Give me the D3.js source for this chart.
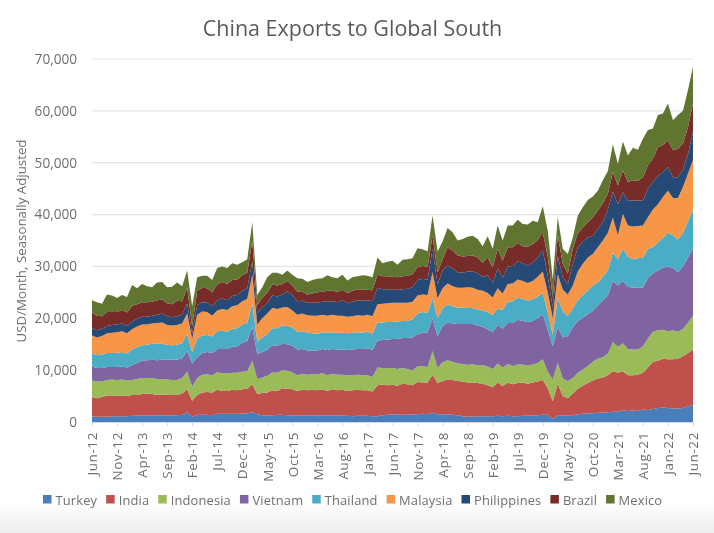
<!DOCTYPE html>
<html>
<head>
<meta charset="utf-8">
<script src="https://cdn.jsdelivr.net/npm/d3@7"></script>
<style>
  html, body { margin: 0; padding: 0; background: #fff; }
  text { font-family: "Open Sans", sans-serif; fill: #6e6e6e; }
</style>
</head>
<body>
<div id="chart"></div>
<script>
// values, in thousands of USD/month, Jun-12 to Jun-22
var turkey = [1.1,1.0,1.0,1.0,1.1,1.1,1.1,1.1,1.2,1.2,
  1.3,1.2,1.2,1.3,1.3,1.2,1.3,1.3,1.4,1.9,
  1.0,1.4,1.4,1.4,1.3,1.6,1.6,1.6,1.6,1.6,
  1.6,1.7,1.9,1.5,1.3,1.2,1.3,1.4,1.4,1.3,
  1.3,1.3,1.2,1.3,1.3,1.3,1.3,1.3,1.3,1.3,
  1.2,1.2,1.1,1.2,1.2,1.2,1.1,1.1,1.3,1.4,
  1.5,1.5,1.4,1.4,1.5,1.5,1.6,1.5,1.8,1.5,
  1.5,1.5,1.4,1.3,1.1,1.0,1.1,1.1,1.1,1.1,
  1.1,1.2,1.1,1.2,1.1,1.1,1.2,1.2,1.3,1.3,
  1.4,1.4,0.6,1.3,1.3,1.3,1.3,1.5,1.6,1.7,
  1.7,1.8,1.8,1.9,2.0,2.0,2.2,2.1,2.2,2.1,
  2.4,2.3,2.5,2.7,2.8,2.7,2.6,2.6,2.7,3.0,3.3];
var india = [3.7,3.6,3.8,4.1,4.0,3.9,4.0,3.9,4.0,4.0,
  4.1,4.3,4.2,3.9,4.0,4.0,3.9,3.9,4.1,4.4,
  3.1,3.8,4.3,4.4,4.4,4.6,4.4,4.4,4.6,4.5,
  4.7,4.7,5.4,3.9,4.3,4.5,4.8,4.6,5.1,5.1,
  5.0,4.7,5.0,4.8,4.9,4.8,5.0,4.7,5.0,4.8,
  5.0,4.8,5.0,5.0,4.9,4.9,4.8,6.0,5.9,5.7,
  5.7,5.5,6.0,5.9,5.6,6.2,6.0,6.1,7.3,6.0,
  6.4,6.7,6.7,6.6,6.7,6.6,6.5,6.4,6.3,6.0,
  5.6,6.4,5.8,6.4,6.2,6.4,6.4,6.2,6.3,6.5,
  6.7,5.1,3.4,6.1,3.7,3.3,4.2,4.9,5.4,5.8,
  6.3,6.6,6.8,7.1,7.8,7.5,7.6,6.9,6.8,7.0,
  7.1,8.2,9.1,9.1,9.4,9.4,9.5,9.6,10.0,10.3,10.7];
var indonesia = [3.2,3.2,3.0,3.0,3.1,3.1,3.1,3.0,2.9,3.1,
  3.1,3.0,3.1,3.1,3.0,3.0,2.9,2.9,3.0,3.5,
  2.7,3.3,3.4,3.4,3.3,3.4,3.4,3.4,3.3,3.4,
  3.4,3.4,4.5,2.9,3.0,3.2,3.5,3.5,3.5,3.5,
  3.3,3.0,3.1,3.0,3.0,3.1,3.1,3.0,3.0,3.0,
  2.9,3.0,2.9,2.9,2.9,2.9,2.8,3.4,3.2,3.3,
  3.2,3.2,3.0,2.9,2.9,3.0,3.2,3.0,4.6,2.9,
  3.6,3.7,3.5,3.4,3.4,3.4,3.6,3.4,3.6,3.6,
  3.5,3.7,3.6,3.6,3.5,3.6,3.5,3.5,3.5,3.6,
  4.0,3.2,4.2,4.0,3.4,3.3,3.0,3.1,3.1,3.3,
  3.6,3.8,3.9,4.2,5.6,5.0,5.4,5.1,5.0,4.9,
  5.1,5.6,5.8,5.9,5.6,5.4,5.6,5.2,5.3,5.9,6.5];
var vietnam = [2.7,2.6,2.6,2.5,2.4,2.5,2.5,2.5,2.9,3.1,
  3.3,3.4,3.5,3.6,3.7,3.8,3.9,3.9,3.8,3.9,
  4.5,4.0,4.2,4.3,4.3,4.5,4.7,4.7,5.0,5.1,
  5.6,5.8,6.6,4.8,4.9,5.0,5.2,5.2,5.1,5.1,
  5.1,5.0,4.8,4.7,4.6,4.6,4.7,4.9,4.8,4.9,
  4.9,4.9,5.0,5.0,5.1,5.2,5.2,5.2,5.4,5.5,
  5.6,5.8,5.8,6.0,6.3,6.2,6.4,6.7,6.2,6.1,
  7.0,7.3,7.4,7.6,7.7,7.9,7.7,7.7,7.3,7.2,
  7.1,7.4,7.5,7.9,8.3,8.6,8.4,8.4,8.4,8.6,
  8.7,8.1,6.4,6.9,7.9,8.7,9.8,10.0,10.0,10.0,
  9.8,10.2,11.0,11.2,11.8,11.8,12.0,12.0,11.9,12.0,
  11.3,11.7,11.3,11.5,12.0,12.5,12.0,11.5,12.0,12.5,13.0];
var thailand = [2.5,2.5,2.6,2.7,2.7,2.7,2.8,2.7,3.0,3.0,
  3.0,3.0,3.1,3.2,3.1,2.9,2.8,2.9,2.9,3.2,
  2.2,3.6,3.4,3.3,3.2,3.4,3.5,3.3,3.5,3.5,
  3.5,3.5,4.5,2.4,2.8,3.0,3.3,3.4,3.5,3.5,
  3.5,3.4,3.4,3.4,3.3,3.2,3.2,3.3,3.2,3.2,
  3.2,3.2,3.2,3.2,3.1,3.2,3.1,3.5,3.4,3.4,
  3.3,3.4,3.3,3.3,3.5,4.0,4.0,3.7,4.0,3.5,
  3.4,3.5,3.3,3.2,3.2,3.1,3.1,3.1,3.2,3.3,
  3.3,3.2,3.6,4.1,4.2,4.3,4.2,4.1,4.1,4.2,
  4.0,3.3,2.2,5.7,5.0,3.8,3.6,4.0,4.4,4.5,
  4.9,4.5,4.5,4.8,5.5,5.1,6.2,5.8,5.5,5.6,
  5.8,5.5,5.0,5.4,5.7,6.5,6.3,6.3,6.5,7.0,7.5];
var malaysia = [3.5,3.4,3.6,3.8,3.9,4.0,4.0,3.9,3.9,4.0,
  4.0,3.9,3.9,4.0,4.1,3.8,3.8,3.8,3.8,4.0,
  2.5,4.6,4.6,4.4,4.0,4.0,4.2,4.2,4.3,4.4,
  4.5,4.6,5.5,3.3,3.7,4.0,3.9,3.7,3.5,3.7,
  3.3,3.3,3.4,3.4,3.4,3.5,3.4,3.3,3.4,3.3,
  3.3,3.2,3.2,3.3,3.3,3.3,3.4,3.5,3.6,3.6,
  3.7,3.6,3.5,3.5,3.4,3.5,3.4,3.5,5.0,3.8,
  3.9,4.0,3.9,3.8,3.8,4.0,3.9,3.8,3.8,3.7,
  3.4,3.9,3.2,3.4,3.4,3.5,3.5,3.4,3.6,3.8,
  4.2,3.9,3.2,4.5,4.2,4.2,4.4,5.5,6.0,6.4,
  6.1,6.8,7.0,7.3,6.7,4.6,6.7,6.0,6.3,6.2,
  6.2,6.2,7.3,7.4,7.9,8.1,7.2,8.0,8.8,9.2,9.5];
var philippines = [1.4,1.4,1.4,1.4,1.5,1.5,1.5,1.4,1.5,1.5,
  1.5,1.5,1.5,1.6,1.7,1.7,1.6,1.7,1.7,2.0,
  1.0,1.8,1.8,1.8,1.8,2.0,2.0,1.9,2.0,2.0,
  2.0,2.1,2.5,2.2,2.2,2.0,2.4,2.4,2.5,3.0,
  3.0,2.6,2.5,2.4,2.5,2.5,2.5,2.8,2.6,2.6,
  3.0,2.6,2.8,2.9,2.9,2.8,2.9,3.2,2.8,2.7,
  2.5,2.5,2.6,2.7,2.8,3.0,3.0,2.9,4.5,2.7,
  3.4,3.5,3.4,3.0,2.9,3.0,3.1,3.2,2.7,3.4,
  2.8,3.8,3.0,3.4,3.4,3.5,3.4,3.4,3.5,3.7,
  4.1,3.2,2.0,3.5,2.4,2.0,4.1,4.7,4.3,3.9,
  3.5,3.5,3.5,4.5,5.0,6.0,4.2,4.8,5.0,4.9,
  4.8,5.5,5.3,5.5,4.8,4.6,4.0,4.0,3.5,3.8,5.4];
var brazil = [3.0,2.8,2.4,2.7,2.5,2.4,2.6,2.6,3.0,2.8,
  2.8,2.8,2.7,2.8,2.7,2.5,2.5,3.0,2.6,3.0,
  1.5,2.8,2.8,2.8,2.7,3.0,3.2,3.1,3.1,3.0,
  3.0,3.0,4.0,1.5,1.8,2.0,2.1,2.1,2.0,2.0,
  1.8,1.8,1.7,1.6,1.8,2.0,1.9,2.0,2.0,2.0,
  2.0,2.0,2.1,2.1,2.1,2.0,2.1,2.5,2.5,2.5,
  2.5,2.4,2.5,2.5,2.5,2.5,2.5,2.5,2.5,2.4,
  2.2,3.5,3.5,3.2,3.1,3.0,3.1,3.0,2.7,3.4,
  3.0,3.8,3.3,3.7,3.6,3.5,3.3,3.6,3.6,3.4,
  3.5,3.7,2.0,4.0,2.6,2.0,3.0,2.7,2.7,2.9,
  3.6,3.6,3.7,3.0,3.8,3.6,4.2,3.6,3.9,3.8,
  4.5,4.5,4.5,5.5,5.2,5.1,5.2,5.5,4.9,5.2,5.5];
var mexico = [2.4,2.6,2.4,3.4,3.2,2.7,2.9,3.0,4.0,3.1,
  3.5,3.1,2.8,3.4,3.4,3.1,3.4,3.5,2.9,3.3,
  3.8,2.6,2.3,2.4,2.4,3.2,3.0,3.1,3.2,2.8,
  2.5,2.6,3.6,2.0,2.0,3.0,2.3,2.5,1.8,2.0,
  2.1,2.6,2.5,2.4,2.6,2.6,2.6,3.0,2.6,2.6,
  2.9,2.4,2.6,2.5,2.8,2.7,2.5,3.3,2.5,2.8,
  3.1,2.4,3.2,3.2,3.1,3.6,3.2,3.0,3.9,4.0,
  3.4,3.7,3.5,2.9,3.4,3.7,3.8,3.6,3.2,4.1,
  3.6,4.5,3.9,4.2,4.2,4.5,4.3,4.3,4.5,3.4,
  5.0,5.0,3.5,3.5,2.9,3.8,2.2,3.4,3.9,4.3,
  4.0,3.8,4.4,4.4,5.3,4.2,5.6,5.1,6.3,6.0,
  7.4,6.8,5.8,6.2,6.1,7.1,5.8,6.5,6.3,7.1,7.1];

var seriesNames = ['Turkey', 'India', 'Indonesia', 'Vietnam', 'Thailand', 'Malaysia', 'Philippines', 'Brazil', 'Mexico'];
var seriesValues = [turkey, india, indonesia, vietnam, thailand, malaysia, philippines, brazil, mexico];
var seriesColors = ['#4a7ebb', '#bf504c', '#9bbb59', '#8064a2', '#4bacc6', '#f79646', '#264a78', '#772c2a', '#5f7530'];

// one label every 5 months
var xTickLabels = ['Jun-12', 'Nov-12', 'Apr-13', 'Sep-13', 'Feb-14', 'Jul-14', 'Dec-14', 'May-15', 'Oct-15',
  'Mar-16', 'Aug-16', 'Jan-17', 'Jun-17', 'Nov-17', 'Apr-18', 'Sep-18', 'Feb-19', 'Jul-19', 'Dec-19',
  'May-20', 'Oct-20', 'Mar-21', 'Aug-21', 'Jan-22', 'Jun-22'];
var yTickValues = [0, 10000, 20000, 30000, 40000, 50000, 60000, 70000];

var svgWidth = 714;
var svgHeight = 533;
var margin = { top: 59, bottom: 111, left: 92, right: 21 };
var width = svgWidth - margin.left - margin.right;
var height = svgHeight - margin.top - margin.bottom;

// the reference is a soft screenshot
var svg = d3.select('#chart')
    .append('svg')
    .attr('width', svgWidth)
    .attr('height', svgHeight)
    .style('display', 'block')
    .style('filter', 'blur(0.45px)');

// the picture fades to grey at the very bottom
var fade = svg.append('defs').append('linearGradient')
    .attr('id', 'fade')
    .attr('x1', 0).attr('x2', 0).attr('y1', 0).attr('y2', 1);
fade.append('stop').attr('offset', '0%').attr('stop-color', '#ffffff');
fade.append('stop').attr('offset', '100%').attr('stop-color', '#eeeeee');

svg.append('rect')
    .attr('y', 500)
    .attr('width', svgWidth)
    .attr('height', 33)
    .attr('fill', 'url(#fade)');

var chartGroup = svg.append('g')
    .attr('transform', `translate(${margin.left}, ${margin.top})`);

var rows = d3.range(turkey.length).map(function(i) {
    var row = { month: i };
    seriesNames.forEach(function(name, s) {
        row[name] = seriesValues[s][i] * 1000;
    });
    return row;
});

var stacked = d3.stack().keys(seriesNames)(rows);

var xScale = d3.scaleLinear()
    .domain([0, turkey.length - 1])
    .range([0, width]);

var yScale = d3.scaleLinear()
    .domain([0, 70000])
    .range([height, 0]);

// gridlines
chartGroup.append('g')
    .selectAll('line')
    .data(yTickValues.slice(1))
    .enter()
    .append('line')
    .attr('x1', 0)
    .attr('x2', width)
    .attr('y1', d => yScale(d))
    .attr('y2', d => yScale(d))
    .attr('stroke', '#e4e4e4')
    .attr('stroke-width', 1.2);

var area = d3.area()
    .x(d => xScale(d.data.month))
    .y0(d => yScale(d[0]))
    .y1(d => yScale(d[1]));

chartGroup.selectAll('.band')
    .data(stacked)
    .enter()
    .append('path')
    .attr('class', 'band')
    .attr('d', area)
    .attr('fill', (d, i) => seriesColors[i]);

var bottomAxis = d3.axisBottom(xScale)
    .tickValues(xTickLabels.map((d, i) => i * 5))
    .tickFormat((d, i) => xTickLabels[i])
    .tickSize(4)
    .tickPadding(4);

var xAxisGroup = chartGroup.append('g')
    .attr('transform', `translate(0, ${height})`)
    .call(bottomAxis);

xAxisGroup.selectAll('line').attr('stroke', '#d9d9d9');
xAxisGroup.select('.domain').attr('stroke', '#d9d9d9');
xAxisGroup.selectAll('text')
    .attr('transform', 'rotate(-90)')
    .attr('x', -10)
    .attr('y', 0)
    .attr('dy', '0.35em')
    .style('text-anchor', 'end')
    .style('font-family', '"Open Sans", sans-serif')
    .style('font-size', '13.5px')
    .style('letter-spacing', '0.6px');

var leftAxis = d3.axisLeft(yScale)
    .tickValues(yTickValues)
    .tickFormat(d3.format(','))
    .tickSize(0)
    .tickPadding(15);

var yAxisGroup = chartGroup.append('g').call(leftAxis);
yAxisGroup.select('.domain').remove();
yAxisGroup.selectAll('text')
    .style('font-family', '"Open Sans", sans-serif')
    .style('font-size', '13.6px');

svg.append('text')
    .attr('x', 352.5)
    .attr('y', 35.5)
    .attr('text-anchor', 'middle')
    .style('font-size', '21.5px')
    .style('fill', '#5a5a5a')
    .text('China Exports to Global South');

svg.append('text')
    .attr('transform', 'translate(26, 241) rotate(-90)')
    .attr('text-anchor', 'middle')
    .style('font-size', '13.3px')
    .text('USD/Month, Seasonally Adjusted');

// legend, laid out left to right from the measured text
var legendGroup = svg.append('g');
var legendX = 43;
seriesNames.forEach(function(name, i) {
    legendGroup.append('rect')
        .attr('x', legendX)
        .attr('y', 495)
        .attr('width', 8.5)
        .attr('height', 8.5)
        .attr('fill', seriesColors[i]);
    var label = legendGroup.append('text')
        .attr('x', legendX + 12.5)
        .attr('y', 504.5)
        .style('font-size', '12.9px')
        .style('letter-spacing', '0.15px')
        .text(name);
    legendX += 12.5 + label.node().getComputedTextLength() + 9;
});
</script>
</body>
</html>
